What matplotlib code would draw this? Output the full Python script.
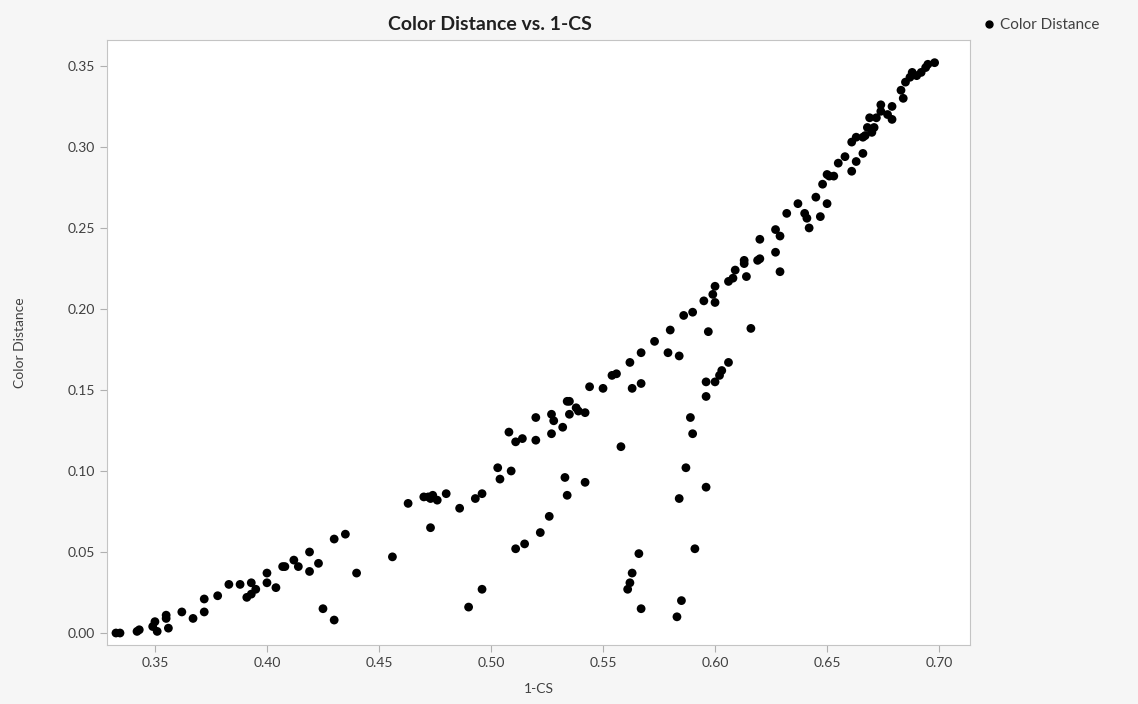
import matplotlib
matplotlib.use("Agg")
import numpy as np
from matplotlib import pyplot as plt

# 1-CS vs Color Distance
cs = [0.3326, 0.3344, 0.342, 0.343, 0.349, 0.350, 0.351, 0.355, 0.355, 0.356,
      0.362, 0.367, 0.372, 0.372, 0.378, 0.383, 0.388, 0.393, 0.391, 0.393,
      0.395, 0.400, 0.400, 0.404, 0.407, 0.408, 0.412, 0.414, 0.419, 0.419,
      0.423, 0.425, 0.430, 0.430, 0.435, 0.440, 0.456, 0.463, 0.470, 0.472,
      0.474, 0.476, 0.473, 0.480, 0.473, 0.486, 0.493, 0.496, 0.490, 0.496,
      0.503, 0.504, 0.509, 0.508, 0.511, 0.514, 0.520, 0.520, 0.527, 0.528,
      0.527, 0.532, 0.534, 0.535, 0.535, 0.538, 0.539, 0.542, 0.533, 0.534,
      0.542, 0.511, 0.515, 0.522, 0.526, 0.544, 0.550, 0.554, 0.556, 0.562,
      0.558, 0.561, 0.562, 0.563, 0.566, 0.567, 0.563, 0.567, 0.567, 0.573,
      0.579, 0.584, 0.580, 0.586, 0.590, 0.595, 0.600, 0.599, 0.600, 0.606,
      0.608, 0.609, 0.613, 0.613, 0.614, 0.619, 0.620, 0.620, 0.627, 0.629,
      0.597, 0.596, 0.596, 0.600, 0.602, 0.603, 0.606, 0.616, 0.589, 0.590,
      0.587, 0.596, 0.584, 0.591, 0.585, 0.583,
      0.632, 0.637, 0.640, 0.641, 0.642, 0.627, 0.629, 0.645, 0.650, 0.647,
      0.648, 0.650, 0.651, 0.653, 0.655, 0.658, 0.661, 0.663, 0.666,
      0.698, 0.695, 0.694, 0.692, 0.688, 0.687, 0.685, 0.683, 0.684, 0.679,
      0.679, 0.677, 0.674, 0.672, 0.674, 0.669, 0.671, 0.668, 0.667, 0.666,
      0.663, 0.661, 0.670, 0.690]

color_distance = [0.000, 0.000, 0.001, 0.002, 0.004, 0.007, 0.001, 0.011, 0.009, 0.003,
                  0.013, 0.009, 0.021, 0.013, 0.023, 0.030, 0.030, 0.031, 0.022, 0.024,
                  0.027, 0.037, 0.031, 0.028, 0.041, 0.041, 0.045, 0.041, 0.050, 0.038,
                  0.043, 0.015, 0.008, 0.058, 0.061, 0.037, 0.047, 0.080, 0.084, 0.084,
                  0.085, 0.082, 0.083, 0.086, 0.065, 0.077, 0.083, 0.086, 0.016, 0.027,
                  0.102, 0.095, 0.100, 0.124, 0.118, 0.120, 0.133, 0.119, 0.135, 0.131,
                  0.123, 0.127, 0.143, 0.143, 0.135, 0.139, 0.137, 0.136, 0.096, 0.085,
                  0.093, 0.052, 0.055, 0.062, 0.072, 0.152, 0.151, 0.159, 0.160, 0.167,
                  0.115, 0.027, 0.031, 0.037, 0.049, 0.015, 0.151, 0.154, 0.173, 0.180,
                  0.173, 0.171, 0.187, 0.196, 0.198, 0.205, 0.204, 0.209, 0.214, 0.217,
                  0.219, 0.224, 0.228, 0.230, 0.220, 0.230, 0.231, 0.243, 0.235, 0.223,
                  0.186, 0.155, 0.146, 0.155, 0.159, 0.162, 0.167, 0.188, 0.133, 0.123,
                  0.102, 0.090, 0.083, 0.052, 0.020, 0.010,
                  0.259, 0.265, 0.259, 0.256, 0.250, 0.249, 0.245, 0.269, 0.265, 0.257,
                  0.277, 0.283, 0.282, 0.282, 0.290, 0.294, 0.285, 0.291, 0.296,
                  0.352, 0.351, 0.349, 0.346, 0.346, 0.343, 0.340, 0.335, 0.330, 0.325,
                  0.317, 0.320, 0.322, 0.318, 0.326, 0.318, 0.312, 0.312, 0.307, 0.306,
                  0.306, 0.303, 0.309, 0.344]

xticks = [0.35, 0.40, 0.45, 0.50, 0.55, 0.60, 0.65, 0.70]
yticks = [0.00, 0.05, 0.10, 0.15, 0.20, 0.25, 0.30, 0.35]

plt.rcParams['font.family'] = ['Lato', 'DejaVu Sans']

fig = plt.figure(figsize=(11.38, 7.04), dpi=100)
fig.patch.set_facecolor('#f6f6f6')
ax = fig.add_axes([107/1138, 59/704, 863/1138, 605/704])
ax.set_facecolor('white')

ax.scatter(cs, color_distance, s=40, color='black', edgecolors='none', zorder=3)

ax.set_xlim(0.3286, 0.7138)
ax.set_ylim(-0.0074, 0.366)
ax.set_xticks(xticks)
ax.set_xticklabels(['%.2f' % v for v in xticks])
ax.set_yticks(yticks)
ax.set_yticklabels(['%.2f' % v for v in yticks])
ax.tick_params(colors='#b0b0b0', labelcolor='#404040', labelsize=10, length=5)
for s in ax.spines.values():
    s.set_color('#c4c4c4')

ax.set_xlabel('1-CS', fontsize=10, color='#404040', labelpad=10)
ax.set_ylabel('Color Distance', fontsize=10, color='#404040', labelpad=30)

fig.text(490/1138, 1 - 24/704, 'Color Distance vs. 1-CS', ha='center', va='center',
         fontsize=14, fontweight='bold', color='#202020')

# legend outside, top right
fig.text(1000/1138, 1 - 25/704, 'Color Distance', ha='left', va='center',
         fontsize=11, color='#404040')
fig.lines.append(plt.Line2D([989/1138], [1 - 24/704], marker='o', markersize=5,
                            color='black', transform=fig.transFigure))

fig.savefig('out.png', dpi=100, facecolor=fig.get_facecolor())
